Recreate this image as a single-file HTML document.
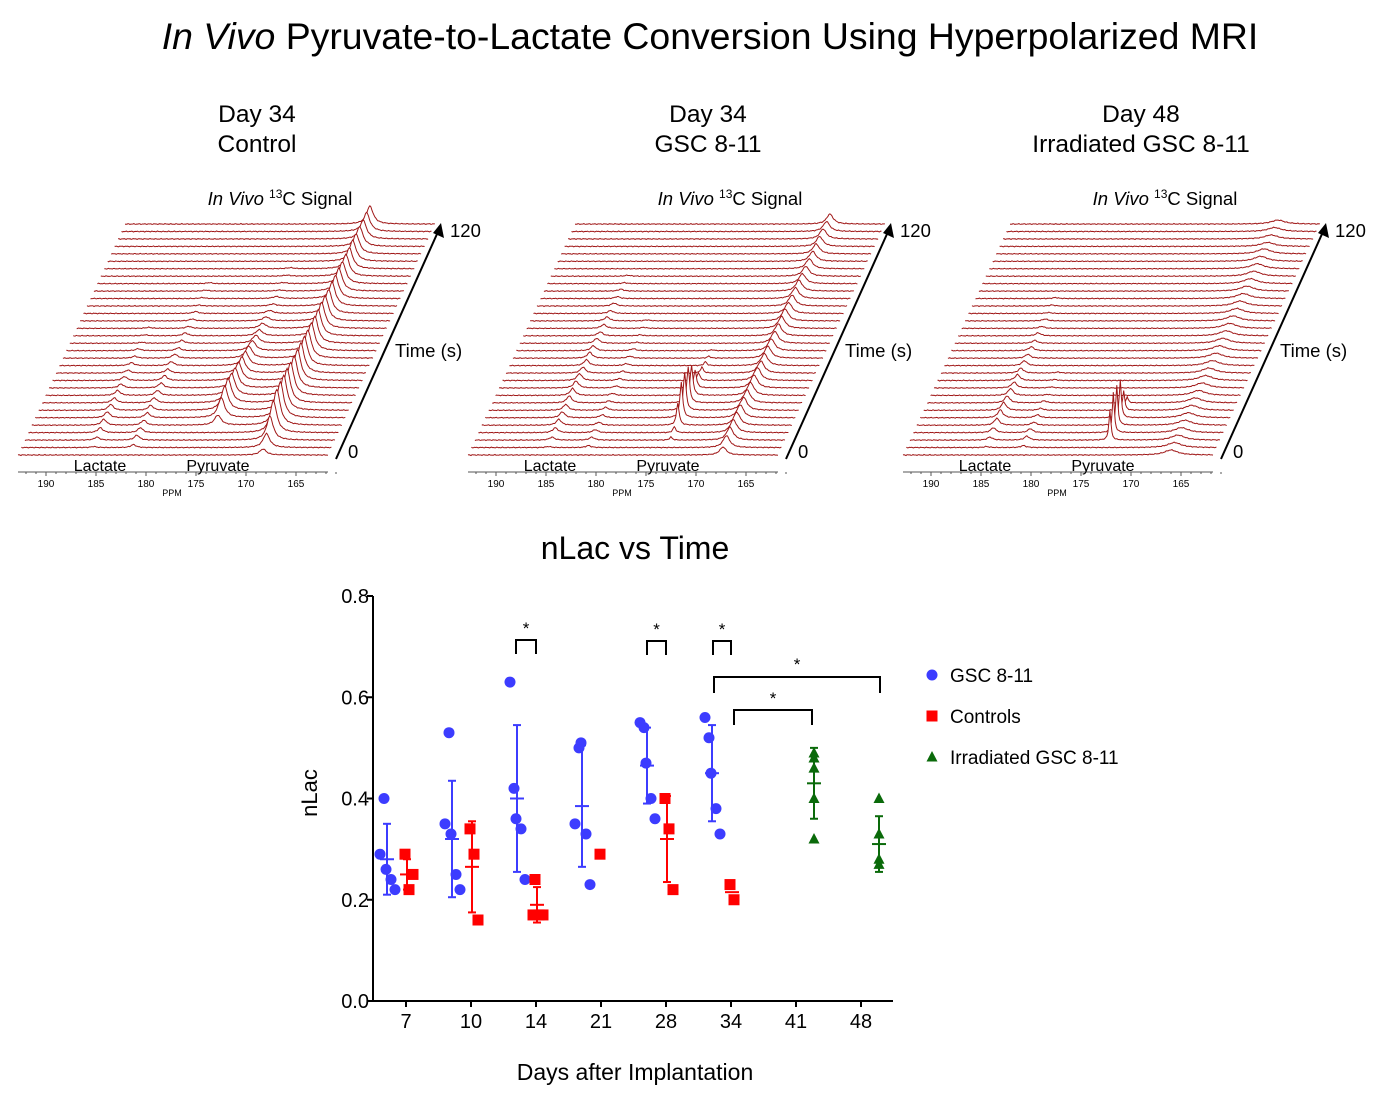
<!DOCTYPE html>
<html><head><meta charset="utf-8"><style>
body{margin:0;background:#fff;}
svg text{font-family:"Liberation Sans",Arial,sans-serif;}
</style></head><body>
<svg id="root" width="1400" height="1097" viewBox="0 0 1400 1097" xmlns="http://www.w3.org/2000/svg">
<text x="710" y="49" text-anchor="middle" font-size="37.4"><tspan font-style="italic">In Vivo</tspan> Pyruvate-to-Lactate Conversion Using Hyperpolarized MRI</text>
<g id="panels"></g>
<g id="scatter"></g>
</svg>
<script>
const NS='http://www.w3.org/2000/svg';
function mk(tag,attrs,parent,txt){const e=document.createElementNS(NS,tag);for(const k in attrs)e.setAttribute(k,attrs[k]);if(txt!==undefined)e.textContent=txt;parent.appendChild(e);return e;}

// ---- Spectra data (amplitudes per trace, bottom -> top) ----
const ctrlPyr=[6,14,24,32,36,36,35,34,33,32,31,30,29,28,28,27,26,26,25,24,24,23,23,22,22,21,21,20,20,19,19,18];
const ctrlHyd=[0,0,0,0,10,20,24,24,22,20,18,16,14,12,10,8,6,5,4,3,2,2,1,1,1,1,0,0,0,0,0,0];
const ctrlLac1=[0,1,3,5,6,6,6,5,5,4,4,3,3,2,2,1,1,1,0,0,0,0,0,0,0,0,0,0,0,0,0,0];
const ctrlLac2=[0,3,5,5,5,5,5,5,5,5,5,4,4,4,3,3,3,2,2,2,1,1,1,1,0,0,0,0,0,0,0,0];
const gscPyr=[8,12,13,13,13,13,13,13,13,13,13,12,12,12,12,12,12,12,12,11,11,11,11,10,10,10,10,10,10,10,10,10];
const gscHyd=[0,0,3,6,22,36,38,36,30,18,8,6,4,2,1,0,0,0,0,0,0,0,0,0,0,0,0,0,0,0,0,0];
const gscLac1=[0,1,3,5,6,6,6,7,7,7,7,6,6,6,5,5,4,4,4,3,3,2,2,1,1,0,0,0,0,0,0,0];
const gscLac2=[0,2,3,3,3,3,3,2,2,2,2,2,2,2,2,1,1,1,1,0,0,0,0,0,0,0,0,0,0,0,0,0];
const irrPyr=[5,5,5,5,5,5,5,5,5,5,5,5,5,5,5,5,5,5,5,5,5,5,5,5,5,5,5,5,4,4,4,4];
const irrHyd=[0,0,30,40,40,38,20,6,0,0,0,0,0,0,0,0,0,0,0,0,0,0,0,0,0,0,0,0,0,0,0,0];
const irrLac1=[0,1,3,5,7,8,8,7,7,6,6,5,5,4,4,3,3,2,2,1,1,1,0,0,0,0,0,0,0,0,0,0];
const irrLac2=[0,2,4,4,3,3,2,2,1,1,1,1,0,0,0,0,0,0,0,0,0,0,0,0,0,0,0,0,0,0,0,0];
const ppmTicks=[190,185,180,175,170,165];

const panelDefs=[
 {ox:0,t1:'Day 34',t2:'Control',cx:257,pyr:ctrlPyr,hyd:ctrlHyd,l1:ctrlLac1,l2:ctrlLac2,pr:245,pw:4,hr:186,hw:4,lr1:72,lr2:112},
 {ox:450,t1:'Day 34',t2:'GSC 8-11',cx:708,pyr:gscPyr,hyd:gscHyd,l1:gscLac1,l2:gscLac2,pr:255,pw:4,hr:196,hw:1.6,lr1:77,lr2:117},
 {ox:885,t1:'Day 48',t2:'Irradiated GSC 8-11',cx:1141,pyr:irrPyr,hyd:irrHyd,l1:irrLac1,l2:irrLac2,pr:268,pw:8,hr:200,hw:1.2,lr1:80,lr2:117}
];
const panels=document.getElementById('panels');
panelDefs.forEach((p,pi)=>{
  const g=mk('g',{transform:`translate(${p.ox},0)`},panels);
  
  
  const h=mk('text',{x:p.cx-p.ox,y:122,'text-anchor':'middle','font-size':24.5},g);
  
  mk('tspan',{x:p.cx-p.ox,dy:0},h,p.t1);mk('tspan',{x:p.cx-p.ox,dy:30},h,p.t2);
  const st=mk('text',{x:280,y:205,'text-anchor':'middle','font-size':18.5},g);
  
  mk('tspan',{'font-style':'italic'},st,'In Vivo ');mk('tspan',{'font-size':12,dy:-7},st,'13');mk('tspan',{dy:7},st,'C Signal');
  const N=32,dx=3.45,dy=7.45,L=310;
  for(let i=N-1;i>=0;i--){
    const sx=18+i*dx,by=455-i*dy;
    let pts=[];
    for(let r=0;r<=L;r+=1){
      let v=p.pyr[i]/(1+((r-p.pr)/p.pw)**2)+p.hyd[i]/(1+((r-p.hr)/p.hw)**2)
        +p.l1[i]/(1+((r-p.lr1)/3)**2)+p.l2[i]/(1+((r-p.lr2)/3)**2);
      v+=0.5*Math.sin(r*1.7+i*2.3)*Math.sin(r*0.53+i);
      pts.push([sx+r,by-v]);
    }
    const d='M'+pts.map(q=>q[0].toFixed(1)+','+q[1].toFixed(1)).join('L');
    const f=mk('path',{d:d+`L${sx+L},${by+2}L${sx},${by+2}Z`,fill:'#fff',stroke:'none'},g);
    
    const t=mk('path',{d:d,fill:'none',stroke:'#a01818','stroke-width':1},g);
    
  }
  const ar=mk('line',{x1:336,y1:459,x2:437,y2:234,stroke:'#000','stroke-width':2},g);
  
  const ah=mk('polygon',{points:'441,223 444,238 433,233',fill:'#000'},g);
  
  [['120',450,237],['Time (s)',395,357],['0',348,458]].forEach(a=>{const e=mk('text',{x:a[1],y:a[2],'font-size':18.5},g,a[0]);});
  const ax=mk('line',{x1:18,y1:472,x2:328,y2:472,stroke:'#555','stroke-width':1},g);
  
  for(let pp=192;pp>=161;pp--){const x=46+(190-pp)*10;mk('line',{x1:x,y1:472,x2:x,y2:pp%5===0?476:474,stroke:'#555'},g);}
  ppmTicks.forEach(pp=>{const e=mk('text',{x:46+(190-pp)*10,y:487,'text-anchor':'middle','font-size':10},g,String(pp));});
  const pl=mk('text',{x:172,y:496,'text-anchor':'middle','font-size':9},g,'PPM');
  const la=mk('text',{x:100,y:471,'text-anchor':'middle','font-size':16},g,'Lactate');
  const py=mk('text',{x:218,y:471,'text-anchor':'middle','font-size':16},g,'Pyruvate');
});

// ---- Scatter chart data ----
const days=['7','10','14','21','28','34','41','48'];
const yTicks=['0.0','0.2','0.4','0.6','0.8'];
const gscVals=[[0.29,0.40,0.26,0.24,0.22],[0.35,0.53,0.33,0.25,0.22],[0.63,0.42,0.36,0.34,0.24],[0.35,0.50,0.51,0.33,0.23],[0.55,0.54,0.47,0.40,0.36],[0.56,0.52,0.45,0.38,0.33],null,null];
const gscMean=[0.28,0.32,0.40,0.385,0.465,0.45,null,null];
const gscSD=[0.07,0.115,0.145,0.12,0.075,0.095,null,null];
const ctlVals=[[0.29,0.22,0.25],[0.34,0.29,0.16],[0.24,0.17,0.17,0.17],[0.29],[0.40,0.34,0.22],[0.23,0.20],null,null];
const ctlMean=[0.25,0.265,0.19,null,0.32,0.215,null,null];
const ctlSD=[0.03,0.09,0.035,null,0.085,null,null,null];
const irrVals=[null,null,null,null,null,null,[0.49,0.48,0.46,0.40,0.32],[0.40,0.33,0.28,0.27]];
const irrMean=[null,null,null,null,null,null,0.43,0.31];
const irrSD=[null,null,null,null,null,null,0.07,0.055];
const jitter={gsc:[-7,-3,-1,4,8],ctl:[-2,2,6,-4],irr:[0,0,0,0,0]};

const S=document.getElementById('scatter');
const X0=373,X1=893,Y0=1001,Y1=596;
const xs=i=>406+i*65;
const ys=v=>Y0-(v/0.8)*(Y0-Y1);
mk('line',{x1:X0,y1:Y1,x2:X0,y2:Y0+1,stroke:'#000','stroke-width':2},S);
mk('line',{x1:X0-1,y1:Y0,x2:X1,y2:Y0,stroke:'#000','stroke-width':2},S);
yTicks.forEach(t=>{const y=ys(parseFloat(t));mk('line',{x1:X0-6,y1:y,x2:X0,y2:y,stroke:'#000','stroke-width':2},S);
  const e=mk('text',{x:X0-4,y:y+7,'text-anchor':'end','font-size':20},S,t);});
days.forEach((d,i)=>{const x=xs(i);mk('line',{x1:x,y1:Y0,x2:x,y2:Y0+6,stroke:'#000','stroke-width':2},S);
  const e=mk('text',{x:x,y:Y0+27,'text-anchor':'middle','font-size':20},S,d);});
[['nLac vs Time',635,559,32,'chart-title'],['Days after Implantation',635,1080,23,'x-axis-title']].forEach(a=>{const e=mk('text',{x:a[1],y:a[2],'text-anchor':'middle','font-size':a[3]},S,a[0]);});
const yt=mk('text',{x:0,y:0,'text-anchor':'middle','font-size':22,transform:'translate(317,793) rotate(-90)'},S,'nLac');


function marker(kind,x,y,col){
  let e;
  if(kind==='gsc')e=mk('circle',{cx:x,cy:y,r:5.5,fill:col},S);
  else if(kind==='ctl')e=mk('rect',{x:x-5.5,y:y-5.5,width:11,height:11,fill:col},S);
  else e=mk('polygon',{points:`${x},${y-6} ${x+5.5},${y+4.5} ${x-5.5},${y+4.5}`,fill:col},S);
  return e;
}
function series(kind,vals,means,sds,off,col,name){
  vals.forEach((arr,i)=>{
    if(!arr)return;const cx=xs(i)+off;
    if(means[i]!==null){
      const m=ys(means[i]);
      mk('line',{x1:cx-7,y1:m,x2:cx+7,y2:m,stroke:col,'stroke-width':2},S);
      if(sds[i]!==null){const a=ys(means[i]+sds[i]),b=ys(means[i]-sds[i]);
        mk('line',{x1:cx,y1:a,x2:cx,y2:b,stroke:col,'stroke-width':2},S);
        mk('line',{x1:cx-4,y1:a,x2:cx+4,y2:a,stroke:col,'stroke-width':2},S);
        mk('line',{x1:cx-4,y1:b,x2:cx+4,y2:b,stroke:col,'stroke-width':2},S);}
    }
    arr.forEach((v,j)=>{const e=marker(kind,cx+jitter[kind][j%jitter[kind].length],ys(v),col);
      
      });
  });
}
series('gsc',gscVals,gscMean,gscSD,-19,'#3c3cff','gsc');
series('ctl',ctlVals,ctlMean,ctlSD,1,'#ff0000','control');
series('irr',irrVals,irrMean,irrSD,18,'#0a6a0a','irradiated');

function bracket(xa,xb,y,drop,sy){
  const p=mk('path',{d:`M${xa},${y+drop}V${y}H${xb}V${y+drop}`,fill:'none',stroke:'#000','stroke-width':2},S);
  
  const s=mk('text',{x:(xa+xb)/2,y:sy,'text-anchor':'middle','font-size':17},S,'*');
  
}
bracket(xs(2)-20,xs(2),640,14,634);
bracket(xs(4)-19,xs(4),641,14,635);
bracket(xs(5)-18,xs(5),641,14,635);
bracket(xs(5)-17,xs(7)+19,677,16,670);
bracket(xs(5)+3,xs(6)+16,710,15,704);

[['gsc','GSC 8-11','#3c3cff',675],['ctl','Controls','#ff0000',716],['irr','Irradiated GSC 8-11','#0a6a0a',757]].forEach(l=>{
  const m=marker(l[0],932,l[3],l[2]);
  const t=mk('text',{x:950,y:l[3]+7,'font-size':19},S,l[1]);
});
</script>
</body></html>
